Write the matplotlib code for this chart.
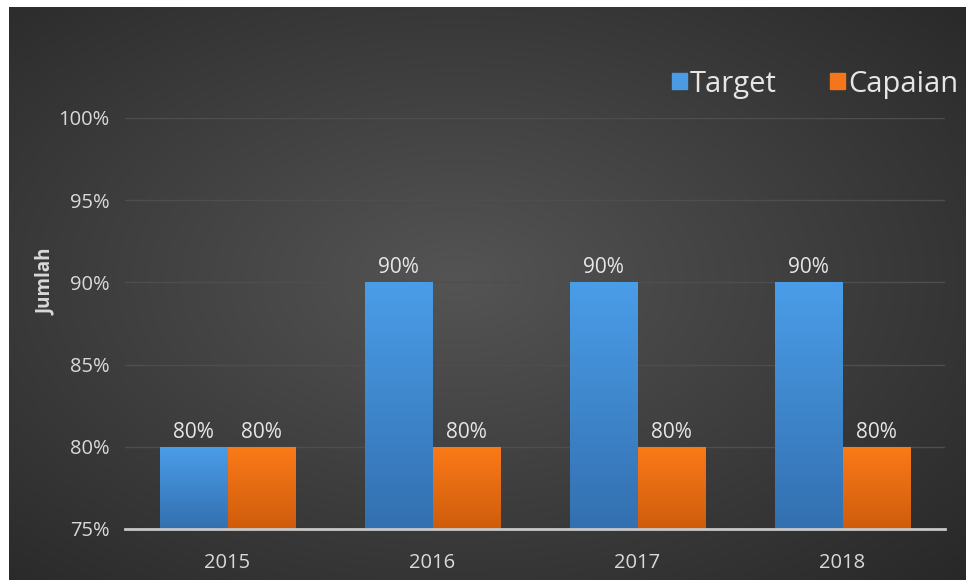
import numpy as np
import matplotlib
matplotlib.use("Agg")
import matplotlib.pyplot as plt
from matplotlib.patches import Rectangle
from matplotlib.colors import LinearSegmentedColormap

categories = ["2015", "2016", "2017", "2018"]
target = [80, 90, 90, 90]
capaian = [80, 80, 80, 80]
series_names = ["Target", "Capaian"]
yticks = [75, 80, 85, 90, 95, 100]
ytick_labels = ["75%", "80%", "85%", "90%", "95%", "100%"]

plt.rcParams['font.family'] = ['Open Sans', 'DejaVu Sans']

W, H = 969, 580
fig = plt.figure(figsize=(W / 100, H / 100), dpi=100, facecolor="white")

# background radial gradient
bg = fig.add_axes([9 / W, 0, (966 - 9) / W, (H - 7) / H])
bg.set_axis_off()
yy, xx = np.mgrid[0:200, 0:300]
cx, cy = 140, 95
r = np.sqrt(((xx - cx) / 300) ** 2 + ((yy - cy) / 200) ** 2)
r = np.clip(r / 0.75, 0, 1)
val = 0.33 - 0.175 * r
img = np.dstack([val, val, val])
bg.imshow(img, extent=[0, 1, 0, 1], aspect="auto", origin="upper", interpolation="bilinear")
bg.set_xlim(0, 1)
bg.set_ylim(0, 1)

ax = fig.add_axes([125 / W, (H - 529) / H, (945 - 125) / W, (529 - 118) / H])
ax.set_facecolor("none")
ax.set_xlim(-0.5, 3.5)
ax.set_ylim(75, 100)

blue_cmap = LinearSegmentedColormap.from_list("b", ["#3370b0", "#4a9de8"])
orange_cmap = LinearSegmentedColormap.from_list("o", ["#cf5c0c", "#fb7a18"])

x = np.arange(len(categories))
bw = 0.33
grad = np.linspace(0, 1, 100).reshape(-1, 1)
for vals, off, cmap in [(target, -bw / 2, blue_cmap), (capaian, bw / 2, orange_cmap)]:
    bars = ax.bar(x + off, np.array(vals) - 75, bw, bottom=75, color="none", zorder=3)
    for b, v in zip(bars, vals):
        x0, w = b.get_x(), b.get_width()
        im = ax.imshow(grad, extent=[x0, x0 + w, 75, v], origin="lower", cmap=cmap,
                       aspect="auto", zorder=3, interpolation="bilinear")
        im.set_clip_path(b)
        ax.text(x0 + w / 2, v + 0.25, f"{v}%", ha="center", va="bottom",
                color="#e6e6e6", fontsize=15, zorder=5)

ax.set_xlim(-0.5, 3.5)
ax.set_ylim(75, 100)
ax.set_yticks(yticks)
ax.set_yticklabels(ytick_labels)
ax.set_xticks(x)
ax.set_xticklabels(categories)
ax.tick_params(axis="both", length=0, colors="#d9d9d9", labelsize=14.5)
ax.tick_params(axis="y", pad=11)
ax.tick_params(axis="x", pad=17)
ax.grid(axis="y", color="#4e4e4e", linewidth=1, zorder=0)
ax.set_axisbelow(True)
for s in ["top", "right", "left"]:
    ax.spines[s].set_visible(False)
ax.spines["bottom"].set_color("#c8c8c8")
ax.spines["bottom"].set_linewidth(2)
ax.spines["bottom"].set_zorder(4)

fig.text(46 / W, 1 - 282 / H, "Jumlah", rotation=90, ha="center", va="center",
         color="#d9d9d9", fontsize=13.5, fontweight="bold")

handles = [Rectangle((0, 0), 1, 1, color="#4a9ae4"), Rectangle((0, 0), 1, 1, color="#f5761a")]
leg = fig.legend(handles, series_names, loc="center right", bbox_to_anchor=(958 / W, 1 - 84 / H),
                 ncol=2, frameon=False, fontsize=21, handlelength=0.5, handleheight=0.5,
                 handletextpad=0.1, columnspacing=1.85, labelcolor="#e6e6e6",
                 borderpad=0.0, borderaxespad=0.0)

fig.savefig("out.png", dpi=100, facecolor="white")
